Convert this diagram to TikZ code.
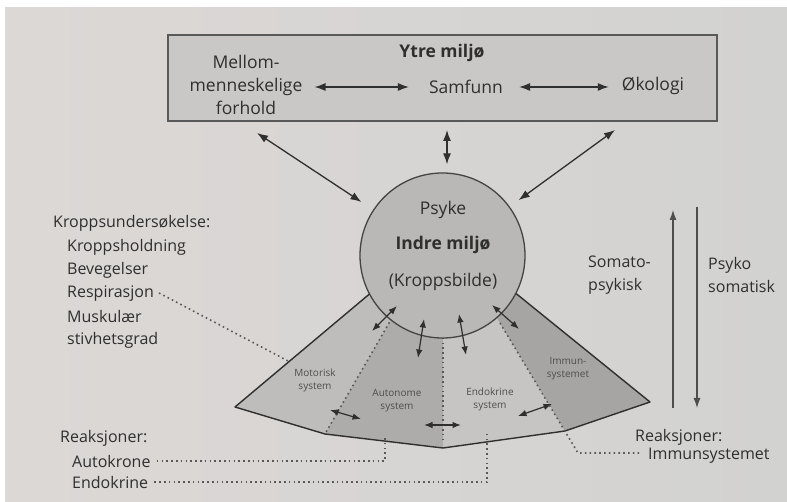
\documentclass[tikz,border=0pt]{standalone}
\usepackage{fontspec}
\setmainfont{Open Sans}
\usetikzlibrary{arrows.meta,calc,positioning}

\definecolor{ink}{HTML}{2F2F2F}
\definecolor{photoL}{HTML}{DCD8D6}
\definecolor{photoR}{HTML}{D2D2D1}
\definecolor{boxgray}{HTML}{C9C8C6}
\definecolor{psykegray}{HTML}{B9B8B6}
\definecolor{motgray}{HTML}{BEBDBB}
\definecolor{autgray}{HTML}{ADACAA}
\definecolor{endgray}{HTML}{C6C5C3}
\definecolor{immgray}{HTML}{A6A5A3}

\tikzset{
  txt/.style={text=ink, font=\fontsize{16}{23}\selectfont, inner sep=0pt},
  bigtxt/.style={txt, font=\fontsize{17.5}{23}\selectfont},
  bigtxtb/.style={txt, font=\fontsize{17.5}{23}\selectfont\bfseries},
  segtext/.style={text=ink!85, font=\fontsize{10}{13}\selectfont, align=center, inner sep=0pt},
  bothway/.style={{Latex[length=11pt,width=8pt]}-{Latex[length=11pt,width=8pt]}, line width=1.3pt, draw=ink},
  smallway/.style={{Latex[length=8.5pt,width=6.5pt]}-{Latex[length=8.5pt,width=6.5pt]}, line width=1.2pt, draw=ink},
  oneway/.style={-{Latex[length=10pt,width=7pt]}, line width=1.1pt, draw=ink!85},
  dots/.style={dash pattern=on 1.6pt off 3.2pt, line width=1.6pt, draw=ink!80},
  fanline/.style={draw=ink, line width=1.4pt, line join=round},
}

\begin{document}
\begin{tikzpicture}[x=1pt,y=-1pt]
\useasboundingbox (0,0) rectangle (787,502);
\fill[left color=photoL, right color=photoR] (5,8) rectangle (787,502);

% ytre miljo
\node[draw=ink!80, line width=1.5pt, fill=boxgray, minimum width=549pt, minimum height=86pt, inner sep=0pt] (ytre) at (442.5,78) {};
\node[bigtxtb] (ytretitle) at (442,53) {Ytre miljø};
\node[bigtxt, align=center] (mellom) at (246,85) {Mellom-\\menneskelige\\forhold};
\node[bigtxt] (samfunn) at (466,87) {Samfunn};
\node[bigtxt] (okologi) at (653,86) {Økologi};
\draw[bothway, shorten <=12pt, shorten >=20pt] (mellom.east |- samfunn.west) -- (samfunn.west);
\draw[bothway, shorten <=16pt, shorten >=13pt] (samfunn.east) -- (okologi.west |- samfunn.east);

% fan of systems
\coordinate (b0) at (235,407);
\coordinate (b1) at (325,434);
\coordinate (b2) at (443,448);
\coordinate (b3) at (565,431);
\coordinate (b4) at (650,402);
\coordinate (t0) at (398,270);
\coordinate (t1) at (411,285);
\coordinate (t2) at (443,285);
\coordinate (t3) at (477,285);
\coordinate (t4) at (487,270);
\fill[motgray] (b0) -- (t0) -- (t1) -- (b1) -- cycle;
\fill[autgray] (t1) -- (t2) -- (b2) -- (b1) -- cycle;
\fill[endgray] (t2) -- (t3) -- (b3) -- (b2) -- cycle;
\fill[immgray] (t3) -- (t4) -- (b4) -- (b3) -- cycle;
\draw[dots] (t1) -- (b1);
\draw[dots] (t2) -- ([yshift=5pt]b2);
\draw[fanline] (t0) -- (b0) -- (b1) -- (b2) -- (b3) -- (b4) -- (t4);

% indre miljo
\node[circle, draw=ink!90, line width=1.3pt, fill=psykegray, minimum size=165pt, inner sep=0pt] (indre) at (442.5,255.5) {};
\node[bigtxt] (psyke) at (443,210) {Psyke};
\node[bigtxtb] (indremiljo) at (443,245) {Indre miljø};
\node[bigtxt] (kroppsbilde) at (443,282) {(Kroppsbilde)};

% box <-> circle
\coordinate (vl) at (257,133);
\coordinate (vm) at (447,130);
\coordinate (vr) at (615,130);
\draw[bothway, shorten >=14pt] (vl) -- (indre);
\draw[bothway, shorten >=8pt] (vm) -- (vm |- indre.north);
\draw[bothway, shorten >=11pt] (vr) -- (indre);

% circle <-> systems
\draw[smallway] (397,306) -- (372,331);
\draw[smallway] (424,319) -- (418,358);
\draw[smallway] (459,314) -- (466,355);
\draw[smallway] (492,305) -- (519,329);
\draw[smallway] (330,410) -- (361,419);
\draw[smallway] (424,425) -- (461,425);
\draw[smallway] (518,416) -- (552,404);

\node[segtext] (motorisk) at (315,380) {Motorisk\\system};
\node[segtext] (autonome) at (397,401) {Autonome\\system};
\node[segtext] (endokrin) at (490,399) {Endokrine\\system};
\node[segtext] (immun) at (568,369) {Immun-\\systemet};

% kroppsundersokelse
\node[txt, anchor=west] (undersok) at (53,223) {Kroppsundersøkelse:};
\node[txt, anchor=west] (holdning) at (67,247) {Kroppsholdning};
\node[txt, anchor=west] (bevegelser) at (67,270) {Bevegelser};
\node[txt, anchor=west] (respirasjon) at (67,294) {Respirasjon};
\node[txt, anchor=west] (muskular) at (67,317) {Muskulær};
\node[txt, anchor=west] (stivhet) at (67,340) {stivhetsgrad};
\coordinate (motend) at (290,362);
\draw[dots] ([xshift=5pt,yshift=1pt]respirasjon.east) -- (motend);

% reaksjoner
\node[txt, anchor=west] (reaksjonL) at (60,438) {Reaksjoner:};
\node[txt, anchor=west] (autokrone) at (72,461) {Autokrone};
\node[txt, anchor=west] (endokrine) at (72,482) {Endokrine};
\coordinate (autoend) at (385,438);
\coordinate (endoend) at (487,433);
\draw[dots] ([xshift=6pt]autokrone.east) -- (autokrone.east -| autoend) -- (autoend);
\draw[dots] ([xshift=6pt]endokrine.east) -- (endokrine.east -| endoend) -- (endoend);

\node[txt, anchor=west] (reaksjonR) at (635,437) {Reaksjoner:};
\node[txt, anchor=west] (immunsys) at (648,456) {Immunsystemet};
\coordinate (immcorner) at (578,453);
\draw[dots] (500,323) -- (immcorner) -- ([xshift=-8pt]immunsys.west |- immcorner);

% somato / psyko
\coordinate (upfoot) at (673,408);
\coordinate (uptop) at (673,210);
\coordinate (downtop) at (697,207);
\coordinate (downfoot) at (697,408);
\draw[oneway] (upfoot) -- (uptop);
\draw[oneway] (downtop) -- (downfoot);
\node[txt, align=left, anchor=west] (somato) at (588,275) {Somato-\\psykisk};
\node[txt, align=left, anchor=west] (psykosom) at (708,275) {Psyko\\somatisk};
\end{tikzpicture}
\end{document}
